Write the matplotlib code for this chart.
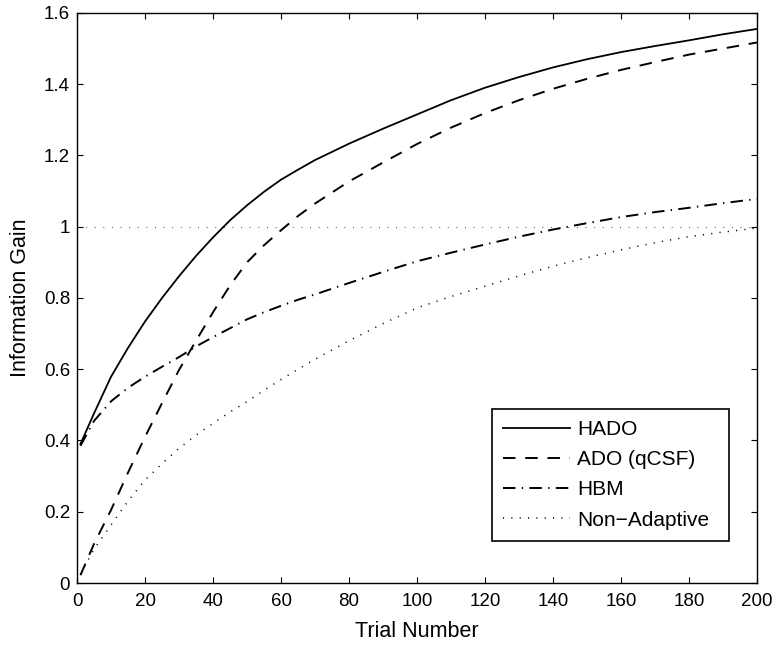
import numpy as np
import matplotlib
matplotlib.use('Agg')
import matplotlib.pyplot as plt
from matplotlib.ticker import FormatStrFormatter

#-------------------------------------------------------------#
# Data
#-------------------------------------------------------------#
trials = [1, 5, 10, 15, 20, 25, 30, 35, 40, 45, 50, 55, 60, 65, 70, 80, 90,
          100, 110, 120, 130, 140, 150, 160, 170, 180, 190, 200]

hado = [0.39, 0.476, 0.579, 0.66, 0.734, 0.80, 0.861, 0.918, 0.97, 1.018,
        1.06, 1.098, 1.132, 1.16, 1.187, 1.233, 1.275, 1.315, 1.355, 1.39,
        1.42, 1.447, 1.47, 1.49, 1.507, 1.523, 1.54, 1.555]
ado = [0.022, 0.11, 0.205, 0.31, 0.41, 0.505, 0.598, 0.68, 0.76, 0.835,
       0.90, 0.948, 0.99, 1.03, 1.065, 1.127, 1.18, 1.232, 1.278, 1.319,
       1.355, 1.387, 1.415, 1.44, 1.462, 1.483, 1.50, 1.517]
hbm = [0.385, 0.455, 0.51, 0.548, 0.579, 0.607, 0.634, 0.664, 0.69, 0.715,
       0.74, 0.76, 0.778, 0.795, 0.81, 0.842, 0.873, 0.903, 0.927, 0.95,
       0.972, 0.992, 1.01, 1.027, 1.041, 1.053, 1.066, 1.078]
nonadapt = [0.025, 0.095, 0.163, 0.23, 0.289, 0.335, 0.378, 0.415, 0.448,
            0.48, 0.509, 0.541, 0.571, 0.60, 0.628, 0.68, 0.728, 0.772,
            0.804, 0.833, 0.862, 0.889, 0.913, 0.935, 0.955, 0.972, 0.985,
            0.996]

ref_level = 1.0
xticks = np.arange(0, 201, 20)
yticks = np.arange(0, 1.61, 0.2)

#-------------------------------------------------------------#
# Plotting
#-------------------------------------------------------------#
plt.rcParams['font.family'] = ['Liberation Sans', 'DejaVu Sans']
plt.rcParams['lines.scale_dashes'] = False

fig = plt.figure(figsize=(7.75, 6.45), dpi=100)
ax = fig.add_axes([0.0994, 0.0961, 0.8774, 0.8839])

ax.plot([0, 200], [ref_level, ref_level], color='0.35', linewidth=0.8,
        dashes=(0.7, 5.5))
ax.plot(trials, hado, color='k', linewidth=1.3, linestyle='-', label='HADO')
ax.plot(trials, ado, color='k', linewidth=1.4, dashes=(9, 7),
        label='ADO (qCSF)')
ax.plot(trials, hbm, color='k', linewidth=1.4, dashes=(9, 4.5, 1, 4.5),
        label='HBM')
ax.plot(trials, nonadapt, color='k', linewidth=1.1, dashes=(0.8, 5.2),
        label='Non\u2212Adaptive')

ax.set_xlim(0, 200)
ax.set_ylim(0, 1.6)
ax.set_xticks(xticks)
ax.set_yticks(yticks)
ax.yaxis.set_major_formatter(FormatStrFormatter('%g'))
ax.tick_params(direction='in', top=True, right=True, length=4, width=0.8,
               labelsize=13.5)
ax.tick_params(axis='x', pad=7)
ax.tick_params(axis='y', pad=5)
for s in ax.spines.values():
    s.set_linewidth(1.0)

ax.set_xlabel('Trial Number', fontsize=15.5, labelpad=8)
ax.set_ylabel('Information Gain', fontsize=15.5, labelpad=9)

leg = ax.legend(loc='lower left', bbox_to_anchor=(0.6103, 0.0737, 0.3485, 0.2),
                mode='expand', borderaxespad=0, fancybox=False,
                edgecolor='k', framealpha=1, fontsize=15, handlelength=3.2,
                borderpad=0.54, labelspacing=0.54, handletextpad=0.35)
leg.get_frame().set_linewidth(1.2)

fig.savefig('out.png', dpi=100)
